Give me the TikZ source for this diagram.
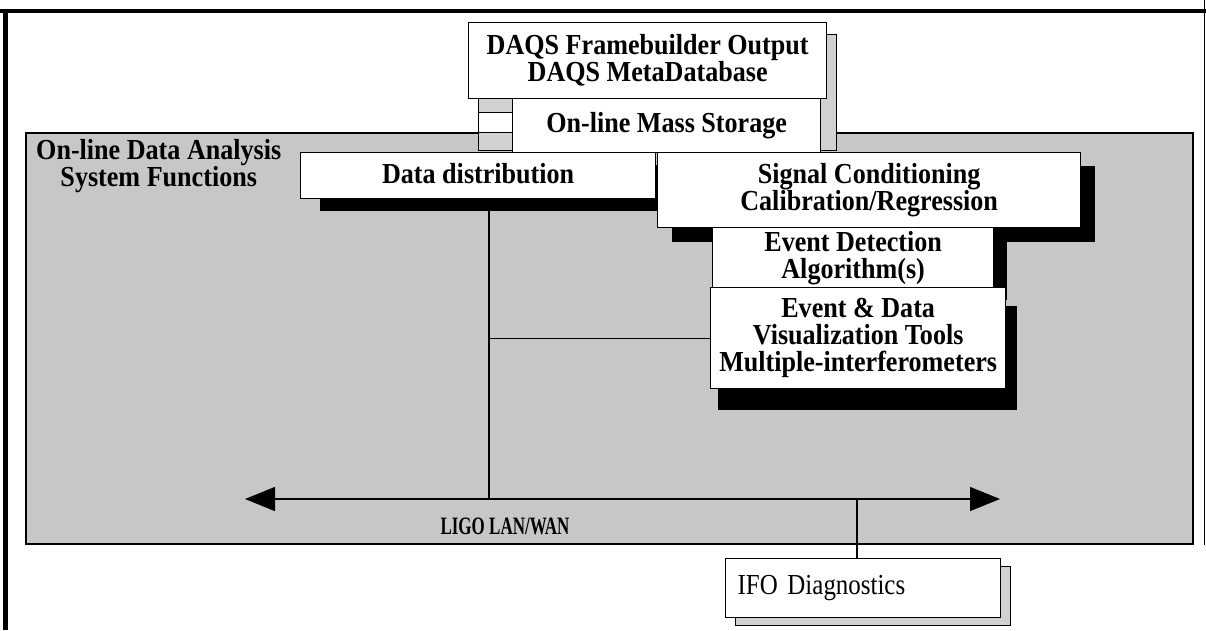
\documentclass[tikz,border=0pt]{standalone}
\usepackage{fontspec}
\setmainfont{Liberation Serif}
\newfontfamily\condfont{Liberation Serif}[FakeStretch=0.9]
\newfontfamily\lanfont{Liberation Serif}[FakeStretch=0.68]
\newfontfamily\ifofont{Liberation Serif}[FakeStretch=0.86]
\usetikzlibrary{arrows.meta}
\begin{document}
\begin{tikzpicture}[x=1pt,y=-1pt,
  box/.style={draw, fill=white, line width=1.3pt, inner sep=0pt, align=center,
    font=\condfont\fontsize{29}{27}\selectfont\bfseries},
  panelbox/.style={draw, fill=black!22, line width=2pt, inner sep=0pt},
  halftone/.style={draw, fill=black!18, line width=1pt},
  blackshadow/.style={fill=black},
  conn/.style={line width=1.3pt},
  titletext/.style={inner sep=0pt, align=center, font=\condfont\fontsize{29}{23}\selectfont\bfseries}]
\useasboundingbox (0,0) rectangle (1206,630);
\fill[white] (0,0) rectangle (1206,630);
% outer frame
\draw[line width=4pt] (0,11) -- (1206,11);
\draw[line width=5pt] (5,11) -- (5,630);
\draw[line width=0.8pt] (1204,0) -- (1204,545);
% panel
\node[panelbox, anchor=north west, minimum width=1167, minimum height=411] (panel) at (25,132) {};
\node[titletext, anchor=north west] (title) at (36,139) {On-line Data Analysis\\System Functions};
% DAQS
\draw[halftone] (478,34) rectangle (836,150);
\draw[fill=white, line width=0.8pt] (478,112) rectangle (512,132);
\node[box, anchor=north west, minimum width=358, minimum height=76] (daqs) at (468,22) {DAQS Framebuilder Output\\DAQS MetaDatabase};
\node[box, anchor=north west, minimum width=308, minimum height=54] (mass) at (512,98) {On-line Mass Storage};
% data distribution
\fill[blackshadow] (320,165) rectangle (690,211);
\node[box, anchor=north west, minimum width=355, minimum height=46] (dd) at (300,152) {\raisebox{5pt}{Data distribution}};
% signal conditioning
\fill[blackshadow] (672,166) rectangle (1095,242);
\node[box, anchor=north west, minimum width=423, minimum height=75] (sc) at (657,152) {Signal Conditioning\\Calibration/Regression};
% event detection
\fill[blackshadow] (725,240) rectangle (1007,300);
\node[box, anchor=north west, minimum width=281, minimum height=60] (edet) at (712,227) {Event Detection\\Algorithm(s)};
% event & data
\fill[blackshadow] (718,306) rectangle (1017,410);
\node[box, anchor=north west, minimum width=295, minimum height=101] (evd) at (710,287) {Event \& Data\\Visualization Tools\\Multiple-interferometers};
% LAN
\coordinate (arrL) at (245,499);
\coordinate (arrR) at (1000,499);
\coordinate (ddtap) at (489,211);
\coordinate (lantap) at (857,499);
\draw[conn, {Triangle[length=30pt,width=24pt]}-{Triangle[length=30pt,width=24pt]}] (arrL) -- (arrR);
\draw[conn] (ddtap) -- (ddtap |- arrL);
\draw[conn] (ddtap |- evd.west) -- (evd.west);
\node[inner sep=0pt, font=\lanfont\fontsize{25}{26}\selectfont\bfseries] (lan) at (505,526) {LIGO LAN/WAN};
% IFO
\draw[halftone] (735,566) rectangle (1010,625);
\node[box, anchor=north west, minimum width=275, minimum height=59, text width=251, align=left,
  font=\ifofont\fontsize{29}{27}\selectfont] (ifo) at (725,558) {IFO Diagnostics};
\draw[conn] (lantap) -- (ifo.north -| lantap);
\end{tikzpicture}
\end{document}
